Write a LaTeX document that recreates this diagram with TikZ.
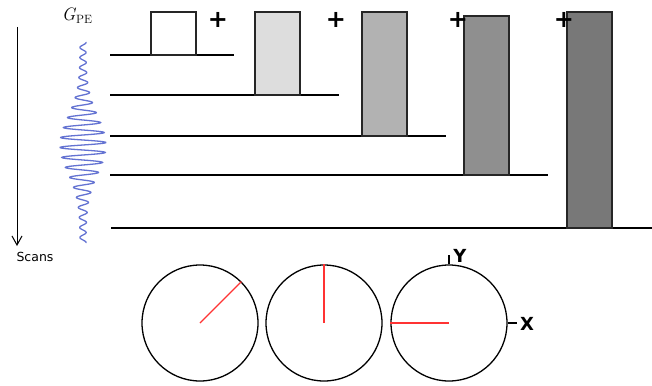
\documentclass[tikz,border=0pt]{standalone}
\usepackage{fontspec}
\usetikzlibrary{arrows.meta}
\newfontfamily\djv{DejaVu Sans}
\definecolor{wave}{RGB}{100,115,210}
\definecolor{g1}{RGB}{255,255,255}
\definecolor{g2}{RGB}{221,221,221}
\definecolor{g3}{RGB}{178,178,178}
\definecolor{g4}{RGB}{143,143,143}
\definecolor{g5}{RGB}{120,120,120}
\begin{document}
\begin{tikzpicture}[x=1pt,y=-1pt,
  base/.style={line width=1.2pt,black},
  pulse/.style={draw=black!85,line width=1.2pt},
  plus/.style={font=\djv\bfseries\fontsize{24}{24}\selectfont,inner sep=0pt},
  circ/.style={draw=black,line width=1.3pt,circle,minimum size=116pt,inner sep=0pt},
  vec/.style={red!80!white,line width=1.2pt},
  axl/.style={font=\djv\bfseries\fontsize{18}{18}\selectfont,inner sep=0pt}]
\useasboundingbox (0,0) rectangle (652,385);
% baselines
\coordinate (b1s) at (110,55);  \coordinate (b1e) at (234,55);
\coordinate (b2s) at (110,95);  \coordinate (b2e) at (339,95);
\coordinate (b3s) at (110,136); \coordinate (b3e) at (446,136);
\coordinate (b4s) at (110,175); \coordinate (b4e) at (548,175);
\coordinate (b5s) at (111,228); \coordinate (b5e) at (652,228);
\draw[base] (b1s) -- (b1e);
\draw[base] (b2s) -- (b2e);
\draw[base] (b3s) -- (b3e);
\draw[base] (b4s) -- (b4e);
\draw[base] (b5s) -- (b5e);
% pulses
\draw[pulse,fill=g1] (151,55) rectangle (196,12);
\draw[pulse,fill=g2] (255,95) rectangle (300,12);
\draw[pulse,fill=g3] (362,136) rectangle (407,12);
\draw[pulse,fill=g4] (464,175) rectangle (509,16);
\draw[pulse,fill=g5] (567,228) rectangle (612,12);
% plus signs
\node[plus] (p1) at (218,20) {+};
\node[plus] (p2) at (336,20) {+};
\node[plus] (p3) at (458,20) {+};
\node[plus] (p4) at (564,20) {+};
% scans arrow
\coordinate (a1) at (17,27);
\coordinate (a2) at (17,246);
\draw[line width=1pt,-{Straight Barb[length=9pt,width=10pt,line width=1pt]}] (a1) -- (a2);
\node[font=\djv\fontsize{12.5}{13}\selectfont,inner sep=0pt] (scans) at (35,257) {Scans};
% G_PE
\node[inner sep=0pt,font=\fontsize{18}{19}\selectfont] (gpe) at (77,16)
  {\textit{G}\raisebox{-0.35ex}{\fontsize{12}{12}\selectfont PE}};
% wave
\draw[wave,line width=1.3pt,domain=42:243,samples=600,variable=\t,smooth]
  plot ({83 + (3+20*exp(-((\t-145)/40)^2))*sin(\t*36)}, \t);
% circles
\node[circ] (c1) at (200,323) {};
\node[circ] (c2) at (324,323) {};
\node[circ] (c3) at (449,323) {};
\draw[vec] (c1.center) -- (c1.45);
\draw[vec] (c2.center) -- (c2.north);
\draw[vec] (c3.center) -- (c3.west);
% axes ticks
\coordinate (yt) at (449,255);
\coordinate (xt) at (517,323);
\draw[line width=1.4pt] (c3.north) -- (yt);
\draw[line width=1.4pt] (c3.east) -- (xt);
\node[axl] (ylab) at (460,256) {Y};
\node[axl] (xlab) at (527,324) {X};
\end{tikzpicture}
\end{document}
